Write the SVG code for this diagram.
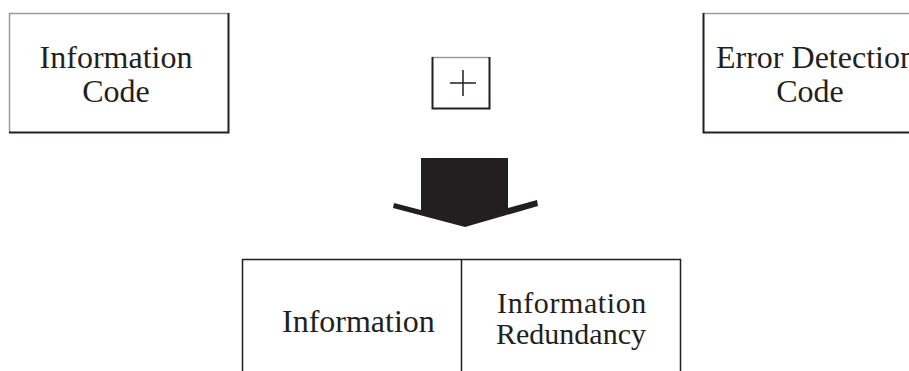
<svg xmlns="http://www.w3.org/2000/svg" width="909" height="371" viewBox="0 0 909 371">
  <style>
    .lbl { font-family: "Liberation Serif", "Times New Roman", serif; font-size: 32px; fill: #231f20; }
    .sm { font-size: 30px; }
    .mid { text-anchor: middle; }
    .lite { stroke: #9a9a9a; stroke-width: 1.5; fill: none; }
    .dark { stroke: #231f20; stroke-width: 2; fill: none; }
  </style>
  <rect width="909" height="371" fill="#ffffff"/>

  <g id="information-code">
    <path class="lite" d="M9.5,133 V13.5 H229"/>
    <path class="dark" d="M228.5,13 V132.5 H9"/>
    <text class="lbl mid" x="116" y="68">Information</text>
    <text class="lbl mid" x="116" y="102">Code</text>
  </g>

  <g id="plus">
    <path class="lite" d="M432 57.5 H489"/>
    <path class="dark" d="M432.5,57 V108.5 H489.5 V57"/>
    <path d="M450 83 H476 M463 70 V96" stroke="#231f20" stroke-width="1.5" fill="none"/>
  </g>

  <g id="error-detection-code">
    <path class="lite" d="M703 13.5 H909"/>
    <path class="dark" d="M703.5,13 V132.5 H909"/>
    <text class="lbl" x="716" y="68">Error Detection</text>
    <text class="lbl mid" x="810" y="102">Code</text>
  </g>

  <g id="connectors">
    <polygon points="421,158 508,158 508,208 537,200 538,206 465,227 393,208 394,203 421,210" fill="#231f20"/>
  </g>

  <g id="result">
    <path d="M242.5,371 V259.5 H680.5 V371 M461.5,259.5 V371" stroke="#231f20" stroke-width="1.5" fill="none"/>
    <text class="lbl" x="282" y="332">Information</text>
    <text class="lbl sm mid" x="572" y="313" letter-spacing="0.6">Information</text>
    <text class="lbl sm mid" x="571" y="344">Redundancy</text>
  </g>
</svg>
